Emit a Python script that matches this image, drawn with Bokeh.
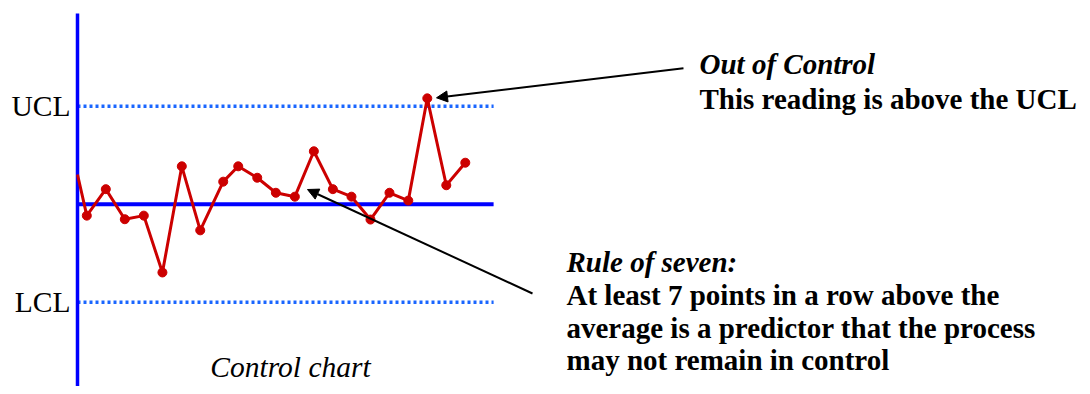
from bokeh.plotting import figure
from bokeh.models import Range1d, Label, Arrow, NormalHead
from bokeh.embed import file_html
from bokeh.resources import INLINE

# ---- data ----
sample_x = [0.0, 0.49, 1.49, 2.49, 3.49, 4.47, 5.49, 6.46, 7.67, 8.46, 9.46,
            10.44, 11.44, 12.44, 13.44, 14.42, 15.42, 16.42, 17.41, 18.41, 19.41, 20.41]
sample_y = [0.91, -0.35, 0.46, -0.46, -0.35, -2.09, 1.16, -0.80, 0.69, 1.16, 0.81,
            0.35, 0.23, 1.62, 0.46, 0.23, -0.47, 0.35, 0.11, 3.24, 0.58, 1.27]
mean_value = 0.0
ucl_value = 3.0
lcl_value = -3.0
line_end = 21.9
axis_top = 5.84

limit_labels = ["UCL", "LCL"]
chart_title = "Control chart"
ooc_title = "Out of Control"
ooc_text = "This reading is above the UCL"
rule_title = "Rule of seven:"
rule_lines = ["At least 7 points in a row above the",
              "average is a predictor that the process",
              "may not remain in control"]

# ---- layout helpers (page pixels -> data) ----
W, H = 1082, 386
PXX, PXY = 19.0, 32.67
X0, Y0 = 77.0, 203.7
def dx(px):
    return (px - X0) / PXX
def dy(py):
    return (Y0 - py) / PXY

p = figure(width=W, height=H, output_backend="svg", toolbar_location=None,
           x_range=Range1d(dx(0), dx(W)), y_range=Range1d(dy(H), dy(0)),
           min_border=0, min_border_left=0, min_border_right=0,
           min_border_top=0, min_border_bottom=0)
p.axis.visible = False
p.grid.visible = False
p.outline_line_color = None
p.background_fill_color = "white"
p.border_fill_color = "white"

BLUE = "#0000ff"
DOT = "#1a66ff"
RED = "#cc0000"
SERIF = "Liberation Serif"
FS = "29px"

# control limits (dotted)
for v in (ucl_value, lcl_value):
    p.line([0, line_end], [v, v], line_color=DOT, line_width=3.5, line_dash="3 3")
# mean line
p.line([0, line_end], [mean_value, mean_value], line_color=BLUE, line_width=4)
# vertical axis
p.line([0, 0], [axis_top, dy(H + 10)], line_color=BLUE, line_width=3.5)

# series
p.line(sample_x, sample_y, line_color=RED, line_width=3)
p.scatter(sample_x[1:], sample_y[1:], size=9, fill_color=RED, line_color=RED)

# labels UCL / LCL
for lab, v in zip(limit_labels, (ucl_value, lcl_value)):
    p.add_layout(Label(x=dx(70), y=v, text=lab, text_align="right",
                       text_baseline="middle", text_font=SERIF,
                       text_font_size="29.5px", text_color="black"))

p.add_layout(Label(x=dx(290), y=dy(366), text=chart_title, text_align="center",
                   text_baseline="middle", text_font=SERIF, text_font_style="italic",
                   text_font_size="29.5px", text_color="black"))

# Out of control annotation
p.add_layout(Label(x=dx(699), y=dy(63), text=ooc_title, text_align="left",
                   text_baseline="alphabetic", text_font=SERIF,
                   text_font_style="bold italic", text_font_size=FS,
                   text_color="black"))
p.add_layout(Label(x=dx(699), y=dy(98), text=ooc_text, text_align="left",
                   text_baseline="alphabetic", text_font=SERIF,
                   text_font_style="bold", text_font_size=FS,
                   text_color="black"))

# Rule of seven annotation
p.add_layout(Label(x=dx(566), y=dy(261), text=rule_title, text_align="left",
                   text_baseline="alphabetic", text_font=SERIF,
                   text_font_style="bold italic", text_font_size=FS,
                   text_color="black"))
for i, t in enumerate(rule_lines):
    p.add_layout(Label(x=dx(566), y=dy(294.5 + 32.5 * i), text=t, text_align="left",
                       text_baseline="alphabetic", text_font=SERIF,
                       text_font_style="bold", text_font_size=FS,
                       text_color="black"))

# arrows
p.add_layout(Arrow(end=NormalHead(size=11, fill_color="black", line_color="black"),
                   x_start=dx(683), y_start=dy(67.7), x_end=dx(436), y_end=dy(97.3),
                   line_color="black", line_width=2))
p.add_layout(Arrow(end=NormalHead(size=11, fill_color="black", line_color="black"),
                   x_start=dx(532), y_start=dy(293), x_end=dx(307), y_end=dy(189),
                   line_color="black", line_width=2))

open("out.html", "w").write(file_html(p, INLINE))
